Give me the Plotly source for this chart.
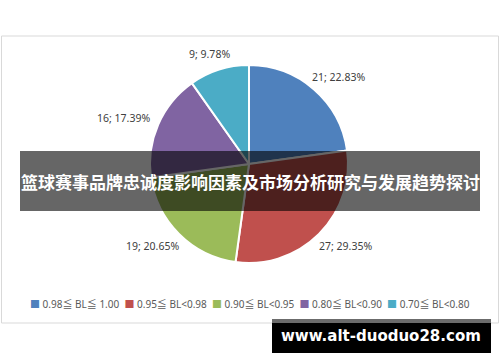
import math
import plotly.graph_objects as go

categories = ["0.98≦ BL≦ 1.00", "0.95≦ BL<0.98", "0.90≦ BL<0.95", "0.80≦ BL<0.90", "0.70≦ BL<0.80"]
counts = [21, 27, 19, 16, 9]
colors = ["#4F81BD", "#C0504D", "#9BBB59", "#8064A2", "#4BACC6"]
title_text = "篮球赛事品牌忠诚度影响因素及市场分析研究与发展趋势探讨"
watermark = "www.alt-duoduo28.com"

W, H = 500, 362

def py(y):
    return (H - y) / H

def px(x):
    return x / W

# pie geometry (pixels)
CX, CY, R = 249, 164, 99
LABEL_R = R + 10.5
CHAR_W, HALF_H = 5.4, 6

fig = go.Figure()
fig.add_trace(go.Pie(
    labels=categories,
    values=counts,
    marker=dict(colors=colors, line=dict(color="white", width=2)),
    sort=False,
    direction="clockwise",
    rotation=0,
    textinfo="none",
    hoverinfo="label+value+percent",
    domain=dict(x=[px(CX - R), px(CX + R)], y=[py(CY + R), py(CY - R)]),
    showlegend=False,
))

# data labels placed outside each slice, along its mid-angle
total = sum(counts)
annotations = []
cum = 0
for v in counts:
    mid = (cum + v / 2) / total * 2 * math.pi
    cum += v
    txt = f"{v}; {v / total * 100:.2f}%"
    s, c = math.sin(mid), math.cos(mid)
    half_w = len(txt) * CHAR_W / 2
    lx = CX + LABEL_R * s + half_w * s
    ly = CY - LABEL_R * c - HALF_H * c
    annotations.append(dict(
        text=txt, xref="paper", yref="paper", x=px(lx), y=py(ly),
        xanchor="center", yanchor="middle", showarrow=False,
        font=dict(family="Noto Sans, Liberation Sans, sans-serif", size=10.5, color="#404040"),
    ))

legend_text = "&nbsp;&nbsp;".join(
    f'<span style="color:{c}">■</span> {cat}' for c, cat in zip(colors, categories)
)

annotations += [
    dict(text=title_text, xref="paper", yref="paper", x=px(250), y=py(182),
         xanchor="center", yanchor="middle", showarrow=False,
         font=dict(family="Noto Sans CJK SC", size=17, color="white", weight="bold")),
    dict(text=legend_text, xref="paper", yref="paper", x=px(250), y=py(304),
         xanchor="center", yanchor="middle", showarrow=False,
         font=dict(family="Noto Sans, Noto Sans CJK SC, sans-serif", size=10, color="#595959")),
    dict(text=watermark, xref="paper", yref="paper", x=px(381), y=py(336),
         xanchor="center", yanchor="middle", showarrow=False,
         font=dict(family="DejaVu Sans", size=15, color="white", weight="bold")),
]

fig.update_layout(
    width=W, height=H,
    margin=dict(l=0, r=0, t=0, b=0),
    paper_bgcolor="white",
    plot_bgcolor="white",
    shapes=[
        dict(type="rect", xref="paper", yref="paper",
             x0=px(1.5), x1=px(498.5), y0=py(323), y1=py(36),
             line=dict(color="#D9D9D9", width=1), fillcolor="rgba(0,0,0,0)", layer="below"),
        dict(type="rect", xref="paper", yref="paper",
             x0=px(20), x1=px(480), y0=py(211), y1=py(151),
             line=dict(width=0), fillcolor="rgba(0,0,0,0.6)", layer="above"),
        dict(type="rect", xref="paper", yref="paper",
             x0=px(272), x1=px(491), y0=py(323), y1=py(319),
             line=dict(width=0), fillcolor="#6B6B6B", layer="above"),
        dict(type="rect", xref="paper", yref="paper",
             x0=px(272), x1=px(491), y0=py(353), y1=py(323),
             line=dict(width=0), fillcolor="black", layer="above"),
    ],
    annotations=annotations,
)

fig.write_html("out.html")
